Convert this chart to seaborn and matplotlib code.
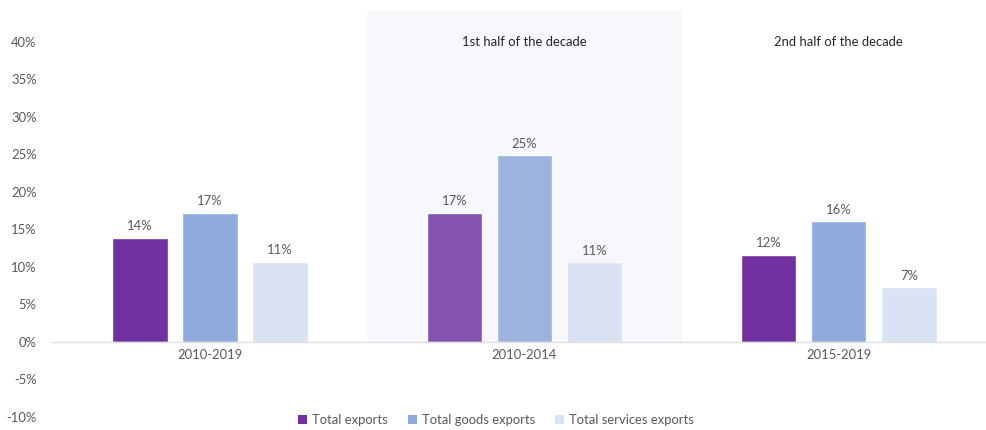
import matplotlib
matplotlib.use("Agg")
import matplotlib.pyplot as plt
import seaborn as sns
import pandas as pd
from matplotlib.patches import Patch
from matplotlib.transforms import blended_transform_factory, ScaledTranslation

periods = ["2010-2019", "2010-2014", "2015-2019"]
series = ["Total exports", "Total goods exports", "Total services exports"]
total_exports = [13.9, 17.2, 11.6]
goods_exports = [17.2, 24.9, 16.1]
services_exports = [10.7, 10.6, 7.3]
y_ticks = [-10, -5, 0, 5, 10, 15, 20, 25, 30, 35, 40]
half_labels = ["1st half of the decade", "2nd half of the decade"]

colors = ["#7030A0", "#8FAADC", "#DAE3F3"]

df = pd.DataFrame({
    "period": periods * 3,
    "series": [series[0]] * 3 + [series[1]] * 3 + [series[2]] * 3,
    "value": total_exports + goods_exports + services_exports,
})

sns.set_style("white")
plt.rcParams["font.family"] = ["Lato", "DejaVu Sans"]
FS = 9.4

fig = plt.figure(figsize=(9.86, 4.30), dpi=100)
ax = fig.add_axes([52 / 986, 13 / 430, 934 / 986, 406 / 430])

sns.barplot(data=df, x="period", y="value", hue="series", order=periods,
            hue_order=series, palette=colors, width=0.668, gap=0.21,
            saturation=1, legend=False, ax=ax)

ax.set_xlim(-0.502, 2.468)
ax.set_ylim(-10, 44.1)

# zero baseline
ax.axhline(0, color="#E0E0E0", lw=1, zorder=2)

# light band over the first half of the decade
ax.axvspan(0.5, 1.5, ymin=10 / 54.1, ymax=1, color="#D8DCF0", alpha=0.2,
           lw=0, zorder=3)

for cont in ax.containers:
    ax.bar_label(cont, labels=[f"{v:.0f}%" for v in cont.datavalues],
                 padding=4, fontsize=FS, color="#595959", zorder=4)

for i, txt in enumerate(half_labels):
    ax.text(i + 1, 40, txt, ha="center", va="center", fontsize=FS,
            color="#262626", zorder=4)

ax.set_yticks(y_ticks)
ax.set_yticklabels([f"{t}%" for t in y_ticks])
ax.tick_params(axis="y", length=0, pad=11, labelsize=FS, labelcolor="#595959")
ax.set_xlabel("")
ax.set_ylabel("")
for s in ax.spines.values():
    s.set_visible(False)

# period names sit just below the zero line
ax.set_xticks(range(3))
ax.set_xticklabels([])
ax.tick_params(axis="x", length=0)
trans = blended_transform_factory(ax.transData, ax.transData)
for i, p in enumerate(periods):
    ax.text(i, 0, p, transform=trans + ScaledTranslation(0, -13 / 100, fig.dpi_scale_trans),
            ha="center", va="center", fontsize=FS, color="#595959")

handles = [Patch(facecolor=c, edgecolor="none") for c in colors]
fig.legend(handles, series, loc="center", bbox_to_anchor=(496 / 986, 10 / 430),
           ncol=3, frameon=False, fontsize=FS, labelcolor="#595959",
           handlelength=0.7, handleheight=0.7, handletextpad=0.4,
           columnspacing=1.5)

fig.savefig("out.png", dpi=100, facecolor="white")
